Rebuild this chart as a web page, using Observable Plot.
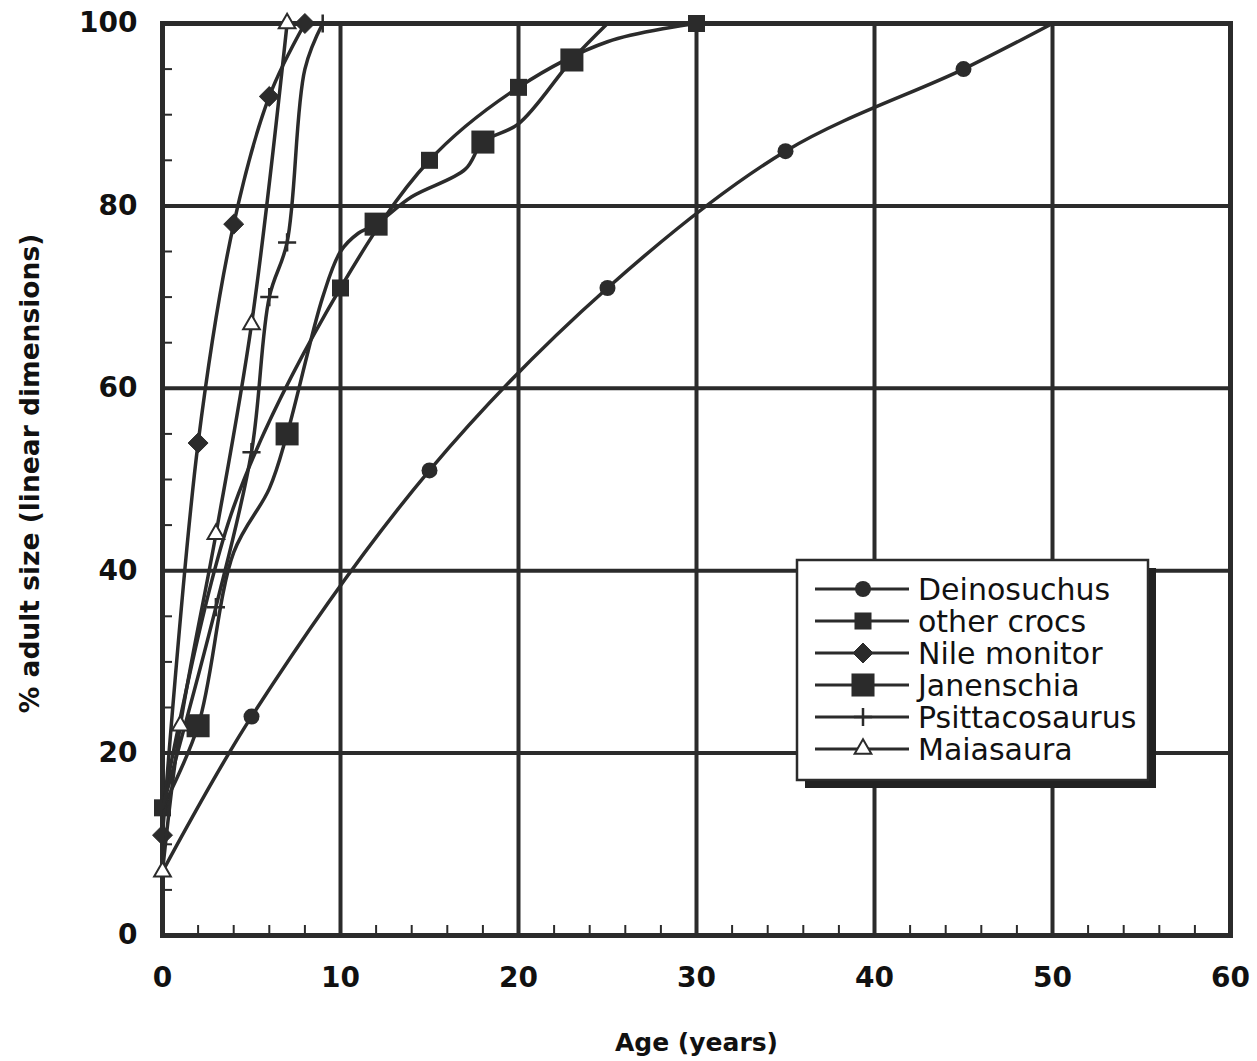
<!DOCTYPE html>
<html>
<head>
<meta charset="utf-8">
<script src="https://cdn.jsdelivr.net/npm/d3@7"></script>
<script src="https://cdn.jsdelivr.net/npm/@observablehq/plot@0.6"></script>
<style>
  html, body { margin: 0; padding: 0; background: #fff; }
  #chart svg { display: block; }
</style>
</head>
<body>
<div id="chart"></div>
<script>
// ---------------- data ----------------
const seriesNames = ["Deinosuchus", "other crocs", "Nile monitor", "Janenschia", "Psittacosaurus", "Maiasaura"];

const deinosuchusAge    = [0, 5, 15, 25, 35, 45, 50];
const deinosuchusPct    = [7, 24, 51, 71, 86, 95, 100];
const deinosuchusMarked = [0, 1, 1, 1, 1, 1, 0];

const crocsAge    = [0, 4, 10, 15, 20, 25, 30];
const crocsPct    = [14, 47, 71, 85, 93, 98, 100];
const crocsMarked = [1, 0, 1, 1, 1, 0, 1];

const nileAge    = [0, 2, 4, 6, 8];
const nilePct    = [11, 54, 78, 92, 100];
const nileMarked = [1, 1, 1, 1, 1];

const janenschiaAge    = [0, 2, 4, 6, 7, 9, 10, 11, 12, 14, 17, 18, 20, 23, 25];
const janenschiaPct    = [14, 23, 42, 49, 55, 70, 75, 77, 78, 81, 84, 87, 89, 96, 100];
const janenschiaMarked = [0, 1, 0, 0, 1, 0, 0, 0, 1, 0, 0, 1, 0, 1, 0];

const psittacoAge    = [0, 3, 5, 6, 7, 8, 9];
const psittacoPct    = [14, 36, 53, 70, 76, 95, 100];
const psittacoMarked = [0, 1, 1, 1, 1, 0, 1];

const maiasauraAge    = [0, 1, 3, 5, 7];
const maiasauraPct    = [7, 23, 44, 67, 100];
const maiasauraMarked = [1, 1, 1, 1, 1];

const xTicks = [0, 10, 20, 30, 40, 50, 60];
const yTicks = [0, 20, 40, 60, 80, 100];
const xGrid  = [10, 20, 30, 40, 50];
const yGrid  = [20, 40, 60, 80];
const xMinor = [2, 4, 6, 8, 12, 14, 16, 18, 22, 24, 26, 28, 32, 34, 36, 38, 42, 44, 46, 48, 52, 54, 56, 58];
const yMinor = [5, 10, 15, 25, 30, 35, 45, 50, 55, 65, 70, 75, 85, 90, 95];

const xTitle = "Age (years)";
const yTitle = "% adult size (linear dimensions)";

// ---------------- build tables ----------------
function table(ages, pcts, marked) {
  return ages.map((a, i) => ({age: a, pct: pcts[i], marked: marked[i] === 1}));
}
const seriesData = [
  table(deinosuchusAge, deinosuchusPct, deinosuchusMarked),
  table(crocsAge, crocsPct, crocsMarked),
  table(nileAge, nilePct, nileMarked),
  table(janenschiaAge, janenschiaPct, janenschiaMarked),
  table(psittacoAge, psittacoPct, psittacoMarked),
  table(maiasauraAge, maiasauraPct, maiasauraMarked)
];

// ---------------- styles ----------------
const ink = "#2b2b2b";
const markerStyles = [
  {symbol: d3.symbolCircle,   r: 8,   fill: ink,    stroke: "none", strokeWidth: 0},
  {symbol: d3.symbolSquare,   r: 9.6, fill: ink,    stroke: "none", strokeWidth: 0},
  {symbol: d3.symbolDiamond2, r: 9,   fill: ink,    stroke: ink,    strokeWidth: 1},
  {symbol: d3.symbolSquare,   r: 13,  fill: ink,    stroke: "none", strokeWidth: 0},
  {symbol: d3.symbolPlus,     r: 5.9, fill: "none", stroke: ink,    strokeWidth: 2.5},
  {symbol: d3.symbolTriangle, r: 6.2, fill: "#fff", stroke: ink,    strokeWidth: 2}
];

const W = 1257, H = 1061;
const M = {left: 162, right: 27, top: 23, bottom: 126};
const fontFam = "DejaVu Sans, Verdana, sans-serif";

const marks = [
  // grid
  Plot.ruleX(xGrid, {x: d => d, stroke: ink, strokeWidth: 4}),
  Plot.ruleY(yGrid, {y: d => d, stroke: ink, strokeWidth: 4}),
  // minor ticks (inward)
  Plot.ruleX(xMinor, {x: d => d, y1: 0, y2: 0, insetBottom: 10, stroke: ink, strokeWidth: 2}),
  Plot.ruleY(yMinor, {y: d => d, x1: 0, x2: 0, insetLeft: 10, stroke: ink, strokeWidth: 2}),
  // frame
  Plot.frame({stroke: ink, strokeWidth: 5}),
  // tick labels
  Plot.text(xTicks, {x: d => d, text: d => String(d), frameAnchor: "bottom", dy: 43,
    textAnchor: "middle", fontSize: 28, fontWeight: "bold", fill: "#111", lineAnchor: "middle"}),
  Plot.text(yTicks, {y: d => d, text: d => String(d), frameAnchor: "left", dx: -25,
    textAnchor: "end", fontSize: 28, fontWeight: "bold", fill: "#111", lineAnchor: "middle"}),
  // axis titles
  Plot.text([xTitle], {text: d => d, frameAnchor: "bottom", dy: 107, textAnchor: "middle",
    fontSize: 25, fontWeight: "bold", fill: "#111", lineAnchor: "middle"}),
  Plot.text([yTitle], {text: d => d, frameAnchor: "left", dx: -132, dy: -6, rotate: -90,
    textAnchor: "middle", fontSize: 26.5, fontWeight: "bold", fill: "#111", lineAnchor: "middle"})
];

seriesData.forEach((rows, i) => {
  const s = markerStyles[i];
  marks.push(Plot.line(rows, {x: "age", y: "pct", curve: "catmull-rom", stroke: ink,
    strokeWidth: 3.5, strokeLinejoin: "round", clip: true}));
  marks.push(Plot.dot(rows.filter(d => d.marked), {x: "age", y: "pct", symbol: s.symbol, r: s.r,
    fill: s.fill, stroke: s.stroke, strokeWidth: s.strokeWidth}));
});

const chart = Plot.plot({
  width: W, height: H,
  marginLeft: M.left, marginRight: M.right, marginTop: M.top, marginBottom: M.bottom,
  x: {domain: [0, 60], axis: null},
  y: {domain: [0, 100], axis: null},
  style: {fontFamily: fontFam, background: "#fff", overflow: "visible"},
  marks
});

// ---------------- legend (inside plot area, like the original) ----------------
const svg = d3.select(chart);
const lg = svg.append("g").attr("font-family", fontFam).attr("text-anchor", "start");
const box = {x: 797, y: 560, w: 351, h: 220};
lg.append("rect").attr("x", box.x + 8).attr("y", box.y + 8).attr("width", box.w).attr("height", box.h).attr("fill", "#222");
lg.append("rect").attr("x", box.x).attr("y", box.y).attr("width", box.w).attr("height", box.h)
  .attr("fill", "#fff").attr("stroke", ink).attr("stroke-width", 2.5);
const rowY0 = 589, rowStep = 32;
seriesNames.forEach((name, i) => {
  const s = markerStyles[i];
  const y = rowY0 + i * rowStep;
  lg.append("line").attr("x1", 815).attr("x2", 909).attr("y1", y).attr("y2", y)
    .attr("stroke", ink).attr("stroke-width", 3);
  lg.append("path").attr("transform", `translate(863,${y})`)
    .attr("d", d3.symbol(s.symbol, s.r * s.r * Math.PI)())
    .attr("fill", s.fill).attr("stroke", s.stroke).attr("stroke-width", s.strokeWidth);
  lg.append("text").attr("x", 918).attr("y", y).attr("dy", "0.35em")
    .attr("text-anchor", "start").attr("font-size", 30).attr("fill", "#111").text(name);
});

document.getElementById("chart").appendChild(chart);
</script>
</body>
</html>
